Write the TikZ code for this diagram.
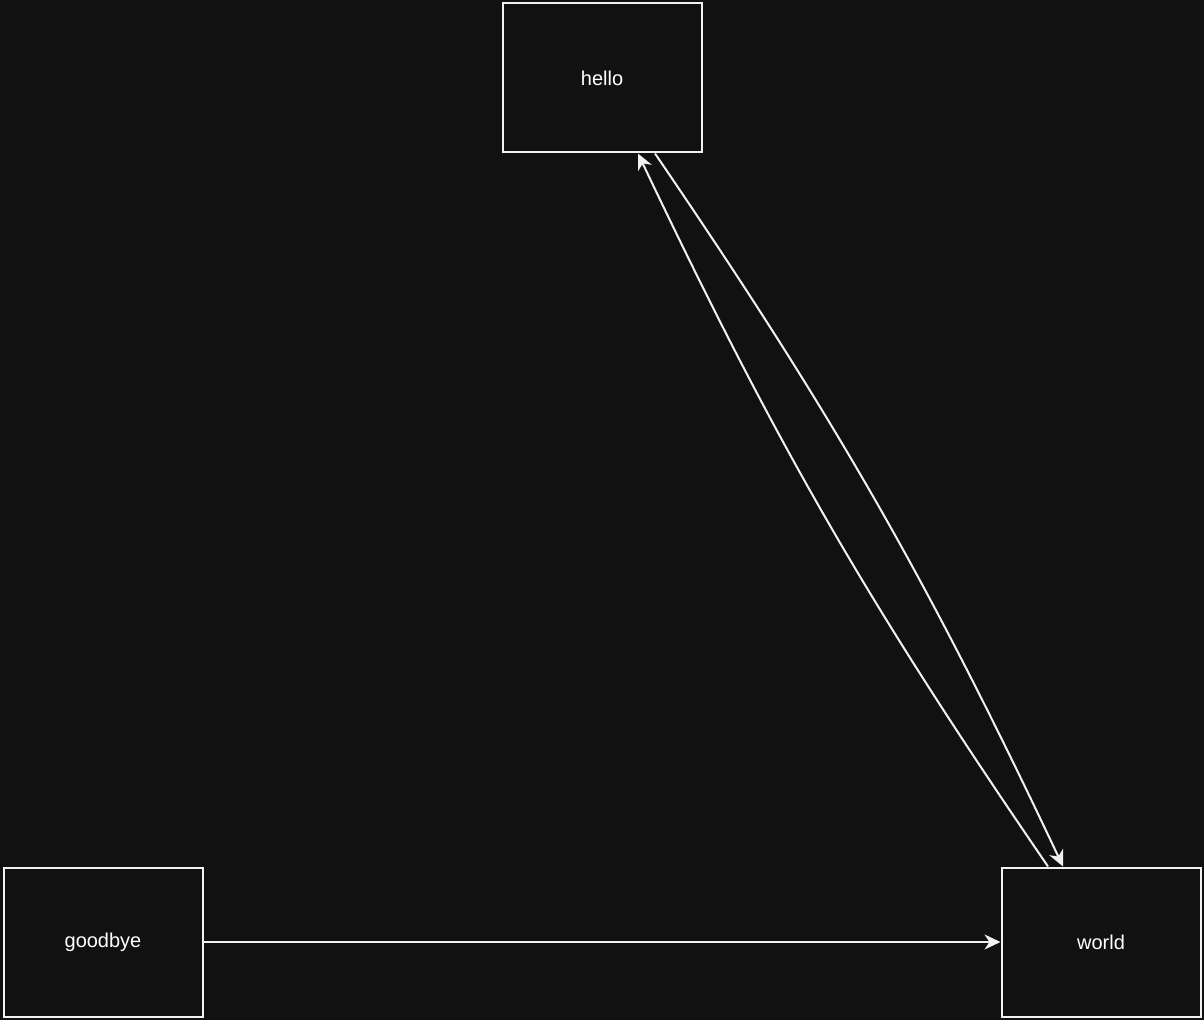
\documentclass[tikz,border=0pt]{standalone}
\usepackage{fontspec}
\setmainfont{Liberation Sans}
\usetikzlibrary{arrows.meta}
\definecolor{bgdark}{HTML}{111111}
\definecolor{linewhite}{HTML}{F2F2F2}

\begin{document}
\begin{tikzpicture}[x=1pt, y=1pt, line width=2pt, draw=linewhite, every node/.style={font=\fontsize{20}{24}\selectfont, text=white}]
		\tikzstyle{box}=[rectangle, minimum width=199, minimum height=149, inner sep=0, draw=linewhite]
		\tikzset{>={Stealth[length=16pt, width=15pt, inset=5pt]}}
		
		\fill[bgdark] (0,0) rectangle (1204,1020);
		\useasboundingbox (0,0) rectangle (1204,1020);
		
		\node[box] (hello) at (602,942) {hello};
		\node[box] (goodbye) at (103,78) {goodbye};
		\node[box] (world) at (1101,78) {world};
		
		\path (goodbye) edge[->] (world);
		\path ([xshift=53]hello.south) edge[->, bend left=4.5] ([xshift=-38]world.north);
		\path ([xshift=-53]world.north) edge[->, bend left=4.5] ([xshift=36]hello.south);
		
	\end{tikzpicture}
\end{document}
